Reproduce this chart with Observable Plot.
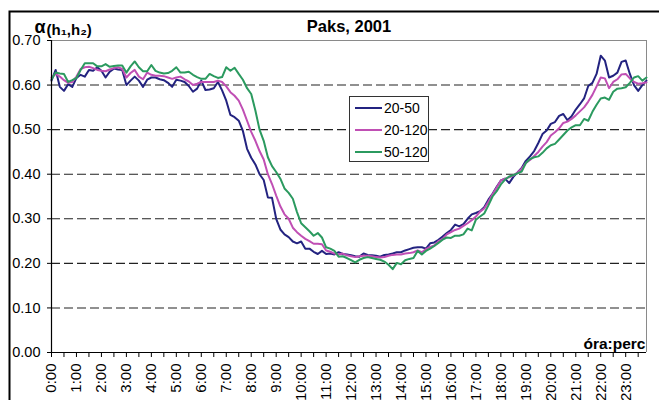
<!DOCTYPE html>
<html>
<head>
<meta charset="utf-8">
<script src="https://cdn.jsdelivr.net/npm/d3@7"></script>
<script src="https://cdn.jsdelivr.net/npm/@observablehq/plot@0.6"></script>
<style>
  html, body { margin: 0; padding: 0; background: #fff; }
  #wrap { position: relative; width: 659px; height: 400px; overflow: hidden; font-family: "Liberation Sans", Arial, sans-serif; }
  #legend { position: absolute; left: 349px; top: 96px; width: 78px; height: 64px; border: 1px solid #333; background: #fff; font-size: 14px; white-space: nowrap; }
  #legend .row { position: absolute; left: 5px; height: 16px; display: flex; align-items: center; white-space: nowrap; }
  #legend .sw { width: 27px; height: 2px; margin-right: 2px; flex: none; }
</style>
</head>
<body>
<div id="wrap"></div>
<script>
// ---- data (10-minute samples, 0:00 .. 23:50) ----
const seriesNames = ["20-50", "20-120", "50-120"];
const hourLabels = ["0:00","1:00","2:00","3:00","4:00","5:00","6:00","7:00","8:00","9:00","10:00","11:00",
  "12:00","13:00","14:00","15:00","16:00","17:00","18:00","19:00","20:00","21:00","22:00","23:00"];
const yTicks = [0, 0.1, 0.2, 0.3, 0.4, 0.5, 0.6, 0.7];
const gridValues = [0.1, 0.2, 0.3, 0.4, 0.5, 0.6];

const s20_50 = [
0.610,0.634,0.596,0.587,0.602,0.596,0.616,0.623,0.619,0.634,0.632,0.640,
0.632,0.617,0.630,0.637,0.635,0.634,0.600,0.610,0.619,0.610,0.596,0.612,
0.617,0.617,0.613,0.611,0.605,0.596,0.612,0.610,0.607,0.598,0.585,0.592,
0.610,0.589,0.590,0.593,0.607,0.588,0.565,0.533,0.528,0.520,0.497,0.457,
0.437,0.422,0.400,0.387,0.348,0.347,0.300,0.276,0.265,0.259,0.249,0.245,
0.249,0.233,0.233,0.226,0.221,0.228,0.221,0.222,0.220,0.225,0.221,0.220,
0.218,0.216,0.215,0.222,0.219,0.218,0.217,0.215,0.219,0.220,0.222,0.225,
0.225,0.229,0.232,0.235,0.236,0.236,0.233,0.245,0.247,0.253,0.260,0.268,
0.275,0.287,0.283,0.288,0.300,0.310,0.313,0.317,0.326,0.343,0.356,0.372,
0.386,0.390,0.380,0.394,0.404,0.414,0.430,0.440,0.452,0.470,0.490,0.498,
0.513,0.517,0.531,0.535,0.521,0.530,0.545,0.557,0.570,0.598,0.605,0.625,
0.666,0.655,0.617,0.621,0.628,0.652,0.655,0.625,0.600,0.587,0.600,0.610];

const s20_120 = [
0.617,0.625,0.619,0.611,0.605,0.607,0.619,0.636,0.640,0.641,0.638,0.634,
0.632,0.631,0.635,0.638,0.640,0.636,0.617,0.627,0.634,0.619,0.613,0.628,
0.623,0.621,0.621,0.620,0.617,0.614,0.617,0.619,0.613,0.608,0.600,0.603,
0.607,0.607,0.607,0.607,0.610,0.607,0.597,0.584,0.576,0.565,0.545,0.520,
0.495,0.475,0.452,0.433,0.400,0.378,0.352,0.328,0.310,0.300,0.280,0.270,
0.262,0.255,0.250,0.244,0.244,0.243,0.229,0.226,0.222,0.220,0.222,0.218,
0.216,0.214,0.216,0.217,0.217,0.216,0.214,0.213,0.214,0.217,0.219,0.220,
0.220,0.222,0.223,0.225,0.229,0.225,0.232,0.237,0.240,0.250,0.255,0.265,
0.270,0.275,0.278,0.284,0.290,0.297,0.305,0.316,0.323,0.338,0.355,0.370,
0.386,0.390,0.393,0.397,0.404,0.412,0.425,0.432,0.441,0.450,0.462,0.472,
0.487,0.494,0.503,0.515,0.518,0.524,0.532,0.541,0.550,0.563,0.578,0.597,
0.617,0.615,0.593,0.607,0.613,0.624,0.625,0.615,0.607,0.603,0.604,0.606];

const s50_120 = [
0.613,0.628,0.626,0.625,0.607,0.611,0.616,0.634,0.649,0.649,0.649,0.642,
0.642,0.647,0.641,0.643,0.644,0.644,0.628,0.642,0.653,0.640,0.631,0.631,
0.645,0.632,0.628,0.626,0.627,0.632,0.640,0.628,0.628,0.630,0.623,0.618,
0.614,0.614,0.625,0.620,0.616,0.618,0.640,0.632,0.639,0.625,0.612,0.593,
0.580,0.543,0.500,0.475,0.438,0.418,0.405,0.390,0.368,0.358,0.345,0.315,
0.290,0.281,0.272,0.262,0.268,0.258,0.236,0.233,0.228,0.215,0.216,0.212,
0.207,0.202,0.208,0.212,0.214,0.212,0.210,0.208,0.204,0.197,0.187,0.201,
0.198,0.207,0.210,0.212,0.228,0.220,0.228,0.233,0.239,0.246,0.253,0.258,
0.257,0.262,0.262,0.265,0.278,0.274,0.298,0.305,0.312,0.330,0.350,0.362,
0.377,0.388,0.395,0.398,0.402,0.406,0.425,0.434,0.438,0.440,0.448,0.458,
0.465,0.468,0.478,0.488,0.498,0.505,0.510,0.510,0.524,0.520,0.540,0.556,
0.570,0.572,0.567,0.585,0.592,0.593,0.595,0.605,0.617,0.620,0.610,0.617];

// ---- styles ----
const colors = ["#232380", "#c04fb4", "#2b9a5f"];
const font = "'Liberation Sans', Arial, sans-serif";

const allSeries = [s20_50, s20_120, s50_120];
const rows = [];
allSeries.forEach((arr, k) => arr.forEach((v, i) => rows.push({i, v, s: seriesNames[k]})));
const nPts = s20_50.length;

const chart = Plot.plot({
  width: 659,
  height: 400,
  marginLeft: 51,
  marginRight: 13,
  marginTop: 40,
  marginBottom: 48,
  style: {fontFamily: font, fontSize: "14px", color: "#000", background: "#fff", overflow: "visible"},
  x: {domain: [0, nPts - 1]},
  y: {domain: [0, 0.7]},
  color: {domain: seriesNames, range: colors},
  marks: [
    // outer chart-area border: only its top and left edges fall inside the picture
    Plot.frame({stroke: "#000", strokeWidth: 2, insetLeft: -42, insetTop: -29, insetRight: -20, insetBottom: -60}),
    Plot.ruleY(gridValues, {stroke: "#222", strokeWidth: 1.1, strokeDasharray: "9,4"}),
    Plot.ruleY([0.7], {stroke: "#8a8a8a", strokeWidth: 1}),
    Plot.ruleX([nPts - 1], {stroke: "#8a8a8a", strokeWidth: 1}),
    Plot.lineY(rows, {x: "i", y: "v", stroke: "s", strokeWidth: 2, strokeLinejoin: "round"}),
    Plot.ruleX([0], {stroke: "#000", strokeWidth: 1.2}),
    Plot.ruleY([0], {stroke: "#000", strokeWidth: 1.2}),
    Plot.axisY({ticks: yTicks, tickFormat: d3.format(".2f"), tickSize: 4, tickPadding: 7, label: null, fontSize: 14.5, stroke: "#000"}),
    Plot.axisX({
      ticks: d3.range(0, nPts, 3),
      tickFormat: d => d % 6 === 0 ? hourLabels[d / 6] : "",
      tickRotate: -90, tickSize: 5, tickPadding: 6, label: null, fontSize: 15, stroke: "#000"
    }),
    Plot.text(["Paks, 2001"], {frameAnchor: "top", lineAnchor: "bottom", dy: -9, fontWeight: "bold", fontSize: 16.5}),
    Plot.text(["α"], {frameAnchor: "top-left", textAnchor: "start", lineAnchor: "bottom", dx: -17, dy: -8, fontWeight: "bold", fontSize: 18}),
    Plot.text(["(h₁,h₂)"], {frameAnchor: "top-left", textAnchor: "start", lineAnchor: "bottom", dx: -5, dy: -6, fontWeight: "bold", fontSize: 15}),
    Plot.text(["óra:perc"], {frameAnchor: "bottom-right", textAnchor: "end", lineAnchor: "bottom", dx: -1, dy: -4, fontWeight: "bold", fontSize: 15.5})
  ]
});

const wrap = document.getElementById("wrap");
wrap.appendChild(chart);

const legend = document.createElement("div");
legend.id = "legend";
seriesNames.forEach((name, k) => {
  const row = document.createElement("div");
  row.className = "row";
  row.style.top = (3 + k * 22) + "px";
  const sw = document.createElement("div");
  sw.className = "sw";
  sw.style.background = colors[k];
  const lab = document.createElement("span");
  lab.textContent = name;
  row.appendChild(sw);
  row.appendChild(lab);
  legend.appendChild(row);
});
wrap.appendChild(legend);
</script>
</body>
</html>
